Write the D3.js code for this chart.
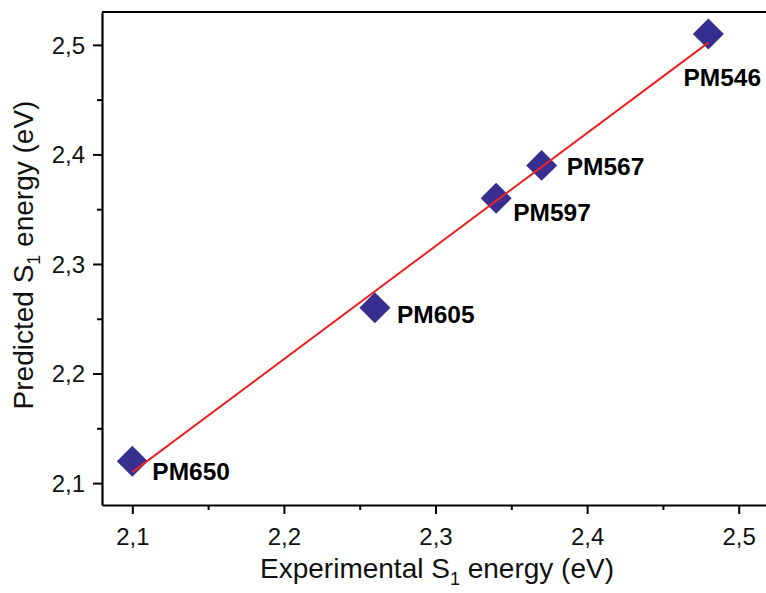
<!DOCTYPE html>
<html><head><meta charset="utf-8">
<script src="https://cdn.jsdelivr.net/npm/d3@7"></script>
<style>body{margin:0;background:#fff}svg{display:block}text{font-family:"Liberation Sans",Arial,sans-serif}</style>
</head><body><svg id="c" width="766" height="593"></svg>
<script>
const labels = ["PM650","PM605","PM597","PM567","PM546"];
const experimental = [2.10, 2.26, 2.34, 2.37, 2.48];
const predicted = [2.12, 2.26, 2.36, 2.39, 2.51];
const fitX = [2.10, 2.48];
const fitY = [2.110, 2.502];
const xTicks = [2.1, 2.2, 2.3, 2.4, 2.5];
const yTicks = [2.1, 2.2, 2.3, 2.4, 2.5];
const minorTicks = [2.15, 2.25, 2.35, 2.45];
const labelOffsets = [[20,19],[22,15],[17,23],[25,10],[-25,52]];

const svg = d3.select("#c");
const x = d3.scaleLinear().domain([2.08, 2.518]).range([102, 766]);
const y = d3.scaleLinear().domain([2.08, 2.53]).range([505, 12]);
const fmt = d => d3.format(".1f")(d).replace(".", ",");

// top border
svg.append("line").attr("x1",102).attr("x2",766).attr("y1",12).attr("y2",12)
  .attr("stroke","#000").attr("stroke-width",2.2);

const xAxis = svg.append("g").attr("transform","translate(0,505)")
  .call(d3.axisBottom(x).tickValues(xTicks).tickFormat(fmt).tickSize(9).tickSizeOuter(0));
svg.append("g").attr("transform","translate(0,505)")
  .call(d3.axisBottom(x).tickValues(minorTicks).tickFormat("").tickSize(5).tickSizeOuter(0))
  .select(".domain").remove();
const yAxis = svg.append("g").attr("transform","translate(102,0)")
  .call(d3.axisLeft(y).tickValues(yTicks).tickFormat(fmt).tickSize(9).tickSizeOuter(0));
svg.append("g").attr("transform","translate(102,0)")
  .call(d3.axisLeft(y).tickValues(minorTicks).tickFormat("").tickSize(5).tickSizeOuter(0))
  .select(".domain").remove();
svg.selectAll(".domain").attr("stroke-width",2.2);
svg.selectAll(".tick line").attr("stroke-width",2);
xAxis.selectAll("text").attr("font-size",24).attr("fill","#111").attr("dy",0).attr("y",40);
yAxis.selectAll("text").attr("font-size",24).attr("fill","#111").attr("x",-17).attr("dy","0.34em");

// axis titles
const xt = svg.append("text").attr("x",437).attr("y",578).attr("text-anchor","middle")
  .attr("font-size",28).attr("fill","#111");
xt.append("tspan").text("Experimental S");
xt.append("tspan").text("1").attr("font-size",18).attr("dy",7);
xt.append("tspan").text(" energy (eV)").attr("dy",-7);

const yt = svg.append("text").attr("transform","translate(33,255) rotate(-90)").attr("text-anchor","middle")
  .attr("font-size",28).attr("fill","#111");
yt.append("tspan").text("Predicted S");
yt.append("tspan").text("1").attr("font-size",18).attr("dy",7);
yt.append("tspan").text(" energy (eV)").attr("dy",-7);

// markers
const sym = d3.symbol().type(d3.symbolSquare).size(480);
svg.append("g").selectAll("path").data(labels).join("path")
  .attr("d", sym)
  .attr("transform",(d,i)=>`translate(${x(experimental[i])},${y(predicted[i])}) rotate(45)`)
  .attr("fill","#372f8f");

// fit line
svg.append("line").attr("x1",x(fitX[0])).attr("y1",y(fitY[0])).attr("x2",x(fitX[1])).attr("y2",y(fitY[1]))
  .attr("stroke","#ee2222").attr("stroke-width",2);

// labels
svg.append("g").selectAll("text").data(labels).join("text")
  .attr("x",(d,i)=>x(experimental[i])+labelOffsets[i][0])
  .attr("y",(d,i)=>y(predicted[i])+labelOffsets[i][1])
  .attr("font-size",24.5).attr("font-weight","bold").attr("fill","#000").text(d=>d);
</script></body></html>
